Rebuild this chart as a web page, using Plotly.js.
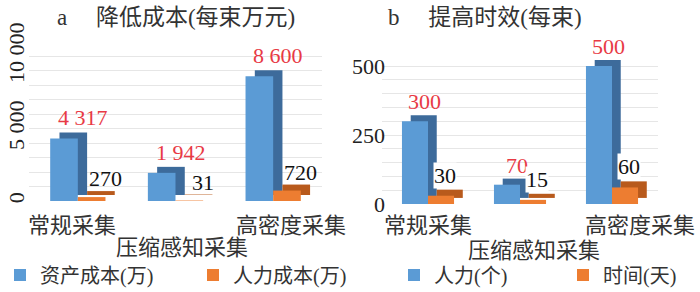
<!DOCTYPE html>
<html>
<head>
<meta charset="utf-8">
<script src="https://cdn.plot.ly/plotly-3.0.1.min.js"></script>
<style>html,body{margin:0;padding:0;background:#fff;}#chart{width:700px;height:292px;}</style>
</head>
<body>
<div id="chart"></div>
<script>
// ---- data ----
const categories = ["常规采集", "压缩感知采集", "高密度采集"];
const costAsset = [4317, 1942, 8600];   // 资产成本(万)
const costLabor = [270, 31, 720];       // 人力成本(万)
const effPeople = [300, 70, 500];       // 人力(个)
const effDays = [30, 15, 60];           // 时间(天)
const costTickVals = [0, 5000, 10000];
const costTickText = ["0", "5 000", "10 000"];
const effTickVals = [0, 250, 500];
const effTickText = ["0", "250", "500"];
const seriesNames = ["资产成本(万)", "人力成本(万)", "人力(个)", "时间(天)"];
const panelTitles = ["a\u00a0\u00a0\u00a0\u00a0\u00a0降低成本(每束万元)", "b\u00a0\u00a0\u00a0\u00a0\u00a0提高时效(每束)"];

// ---- styles ----
const FONT = "Liberation Serif, 'Noto Sans CJK SC', serif";
const BLUE = "#5b9bd5", BLUE_D = "#3d6b9b";
const ORANGE = "#ed7d31", ORANGE_D = "#b85a1c";
const RED = "#e83a45";
const BW = 0.283, DEPTH = 0.095;
const fmt = v => String(v).replace(/\B(?=(\d{3})+(?!\d))/g, " ");

function panel(xr, yr, vA, vB, up, names, legendId) {
  const common = {type: 'bar', x: categories, xaxis: xr, yaxis: yr, width: BW, hoverinfo: 'skip'};
  return [
    Object.assign({}, common, {y: vA, base: up, offset: -BW + DEPTH, marker: {color: BLUE_D}, showlegend: false}),
    Object.assign({}, common, {y: vA, offset: -BW, marker: {color: BLUE}, name: names[0], legend: legendId}),
    Object.assign({}, common, {y: vB, base: up, offset: DEPTH, marker: {color: ORANGE_D}, showlegend: false}),
    Object.assign({}, common, {y: vB, offset: 0, marker: {color: ORANGE}, name: names[1], legend: legendId})
  ];
}

const traces = [].concat(
  panel('x', 'y', costAsset, costLabor, 414, seriesNames.slice(0, 2), 'legend'),
  panel('x2', 'y2', effPeople, effDays, 22, seriesNames.slice(2, 4), 'legend2')
);

const annotations = [];
function labels(xr, yr, vA, vB, shA, shB, ysA, ysB, bg) {
  vA.forEach((v, i) => annotations.push({xref: xr, yref: yr, x: i - BW / 2, y: v, text: fmt(v), showarrow: false,
    xanchor: 'center', yanchor: 'bottom', xshift: shA, yshift: ysA, font: {family: FONT, size: 22, color: RED}}));
  vB.forEach((v, i) => annotations.push({xref: xr, yref: yr, x: i + BW / 2, y: v, text: fmt(v), showarrow: false,
    xanchor: 'center', yanchor: 'bottom', xshift: shB, yshift: ysB, borderpad: 0,
    bgcolor: bg, font: {family: FONT, size: 22, color: '#111'}}));
}
labels('x', 'y', costAsset, costLabor, 19, 14, 6, 5, 'rgba(0,0,0,0)');
labels('x2', 'y2', effPeople, effDays, 10, 4, 5, 7, '#ffffff');

// category labels (Excel-style staggered rows, spread by 3D perspective)
const catFont = {family: FONT, size: 22, color: '#333'};
function catLabels(xr, spread, shift, y1, y2) {
  const mid = (categories.length - 1) / 2;
  categories.forEach((c, i) => annotations.push({xref: xr, yref: 'paper', x: i, y: 1 - (i % 2 ? y2 : y1) / 292,
    text: c, showarrow: false, xanchor: 'center', yanchor: 'middle',
    xshift: (i - mid) * spread + shift, font: catFont}));
}
catLabels('x', 11.5, 6, 225, 247);
catLabels('x2', 14, 14, 225, 250);

annotations.push({xref: 'paper', yref: 'paper', x: 55 / 700, y: 1 - 17 / 292, xanchor: 'left', yanchor: 'middle',
  text: panelTitles[0], showarrow: false, font: {family: FONT, size: 23, color: '#333'}});
annotations.push({xref: 'paper', yref: 'paper', x: 386 / 700, y: 1 - 17 / 292, xanchor: 'left', yanchor: 'middle',
  text: panelTitles[1], showarrow: false, font: {family: FONT, size: 23, color: '#333'}});

const tickFont = {family: FONT, size: 22, color: '#222'};
const barX = dom => ({domain: dom, type: 'category', range: [-0.5, 2.5], showticklabels: false,
  showgrid: false, zeroline: false, showline: false, ticks: ''});
const GRID = '#e6e6e6';

const layout = {
  width: 700, height: 292, autosize: false,
  margin: {l: 0, r: 0, t: 0, b: 0, autoexpand: false},
  paper_bgcolor: '#fff', plot_bgcolor: 'rgba(0,0,0,0)',
  barmode: 'overlay',
  xaxis: barX([29 / 700, 322 / 700]),
  yaxis: {domain: [1 - 201 / 292, 1 - 43 / 292], range: [0, 10900], anchor: 'x',
    tickmode: 'array', tickvals: costTickVals, ticktext: costTickText, tickangle: -90,
    tickfont: tickFont, showgrid: true, gridcolor: GRID, zeroline: false, showline: false, ticks: '',
    minor: {dtick: 1000, tick0: 0, showgrid: true, gridcolor: GRID, ticks: ''}},
  xaxis2: barX([382 / 700, 658 / 700]),
  yaxis2: {domain: [1 - 204 / 292, 1 - 55 / 292], range: [0, 540], anchor: 'x2',
    tickmode: 'array', tickvals: effTickVals, ticktext: effTickText,
    tickfont: tickFont, showgrid: true, gridcolor: GRID, zeroline: false, showline: false, ticks: '',
    ticklabelstandoff: -4,
    minor: {dtick: 50, tick0: 0, showgrid: true, gridcolor: GRID, ticks: ''}},
  legend: {orientation: 'h', x: 0, xanchor: 'left', y: 1 - 275 / 292, yanchor: 'middle',
    entrywidth: 148, entrywidthmode: 'pixels', bgcolor: 'rgba(0,0,0,0)',
    font: {family: FONT, size: 20, color: '#333'}},
  legend2: {orientation: 'h', x: 394 / 700, xanchor: 'left', y: 1 - 275 / 292, yanchor: 'middle',
    entrywidth: 124, entrywidthmode: 'pixels', bgcolor: 'rgba(0,0,0,0)',
    font: {family: FONT, size: 20, color: '#333'}},
  annotations: annotations,
  showlegend: true
};

Plotly.newPlot('chart', traces, layout, {displayModeBar: false, staticPlot: true});
</script>
</body>
</html>
